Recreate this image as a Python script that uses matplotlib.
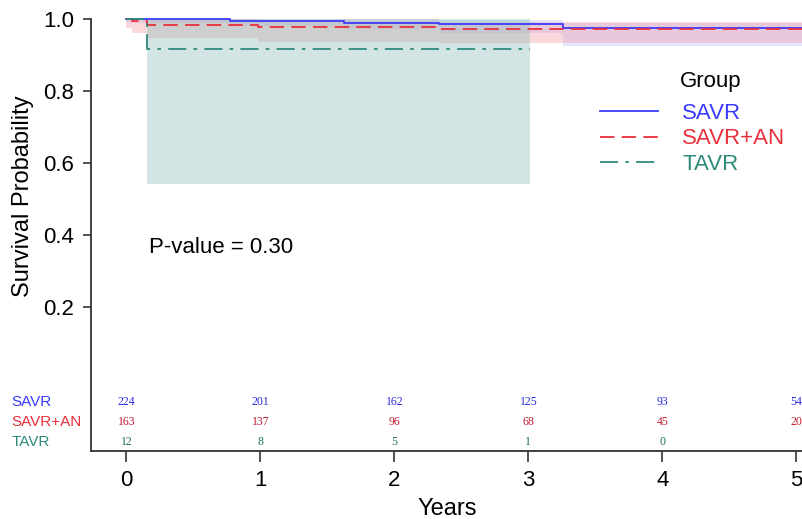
import matplotlib.pyplot as plt
import numpy as np

plt.rcParams['font.family'] = ['Liberation Sans', 'DejaVu Sans']

# Kaplan-Meier steps (time in years)
savr_t = [0, 0.77, 1.62, 2.33, 3.26, 5.05]
savr_s = [1.0, 0.995, 0.99, 0.985, 0.974, 0.974]
savr_lo = [0.99, 0.98, 0.972, 0.962, 0.925, 0.925]
savr_hi = [1.0, 1.0, 1.0, 0.998, 0.99, 0.99]

an_t = [0, 0.04, 0.15, 0.98, 2.33, 5.05]
an_s = [1.0, 0.994, 0.984, 0.978, 0.973, 0.973]
an_lo = [0.975, 0.96, 0.947, 0.936, 0.933, 0.933]
an_hi = [1.0, 1.0, 1.0, 0.997, 0.992, 0.992]

tavr_t = [0, 0.15, 3.01]
tavr_s = [1.0, 0.917, 0.917]
tavr_lo = [1.0, 0.542, 0.542]
tavr_hi = [1.0, 1.0, 1.0]

groups = ['SAVR', 'SAVR+AN', 'TAVR']
colors = ['#3b3bff', '#e8303c', '#2e8b7c']
num_colors = ['#2a2ae0', '#c01a30', '#1f6e60']
band_colors = ['#a8b4ff', '#f0909c', '#8fbfbd']
alphas = [0.3, 0.35, 0.4]

risk_times = [0, 1, 2, 3, 4, 5]
risk_savr = [224, 201, 162, 125, 93, 54]
risk_an = [163, 137, 96, 68, 45, 20]
risk_tavr = [12, 8, 5, 1, 0]

fig = plt.figure(figsize=(8.03, 5.19), dpi=100)
ax = fig.add_axes([0.1133, 0.131, 0.8867, 0.8324])

series = [
    (savr_t, savr_s, savr_lo, savr_hi, '-'),
    (an_t, an_s, an_lo, an_hi, (0, (8, 4))),
    (tavr_t, tavr_s, tavr_lo, tavr_hi, (0, (10, 4, 2, 4))),
]
for (t, s, lo, hi, ls), bc, a in zip(series, band_colors, alphas):
    ax.fill_between(t, lo, hi, step='post', color=bc, alpha=a, linewidth=0, clip_on=False)
handles = []
for (t, s, lo, hi, ls), col, g in zip(series, colors, groups):
    h, = ax.step(t, s, where='post', color=col, linestyle=ls, linewidth=1.3, label=g, clip_on=False)
    handles.append(h)

ax.set_xlim(-0.265, 5.05)
ax.set_ylim(-0.2, 1.0)
ax.set_yticks([0.2, 0.4, 0.6, 0.8, 1.0])
ax.set_yticklabels(['0.2', '0.4', '0.6', '0.8', '1.0'])
ax.set_xticks(risk_times)
ax.tick_params(axis='y', labelsize=16, length=6, width=1.2, pad=6, color='#333333')
ax.tick_params(axis='x', labelsize=16, length=8, width=1.2, pad=6, color='#333333')
for sp in ['top', 'right']:
    ax.spines[sp].set_visible(False)
for sp in ['left', 'bottom']:
    ax.spines[sp].set_linewidth(1.3)
    ax.spines[sp].set_color('#333333')

ax.set_ylabel('Survival Probability', fontsize=17)
ax.yaxis.set_label_coords(-0.08, 0.59)
ax.set_xlabel('Years', fontsize=17, labelpad=5)

ax.text(0.17, 0.364, 'P-value = 0.30', fontsize=16, va='center')

# risk table inside the axes
rows = [(risk_savr, -0.064), (risk_an, -0.12), (risk_tavr, -0.175)]
for (vals, y), col, ncol, g in zip(rows, colors, num_colors, groups):
    for t, v in zip(risk_times, vals):
        ax.text(t, y, str(v), color=ncol, fontsize=8.5, family='Liberation Serif',
                ha='center', va='center', clip_on=False)
    ax.text(-0.858, y, g, color=col, fontsize=11, ha='left', va='center', clip_on=False)

fig.text(680 / 803, 1 - 81 / 519, 'Group', fontsize=16, ha='left', va='center')
leg = ax.legend(handles=handles, loc='upper left', bbox_to_anchor=(600 / 803, 1 - 103 / 519),
                bbox_transform=fig.transFigure, frameon=False, fontsize=16,
                handlelength=2.6, labelspacing=0.2, handletextpad=1.1,
                borderpad=0, borderaxespad=0)
for txt, col in zip(leg.get_texts(), colors):
    txt.set_color(col)

fig.savefig('out.png', dpi=100)
